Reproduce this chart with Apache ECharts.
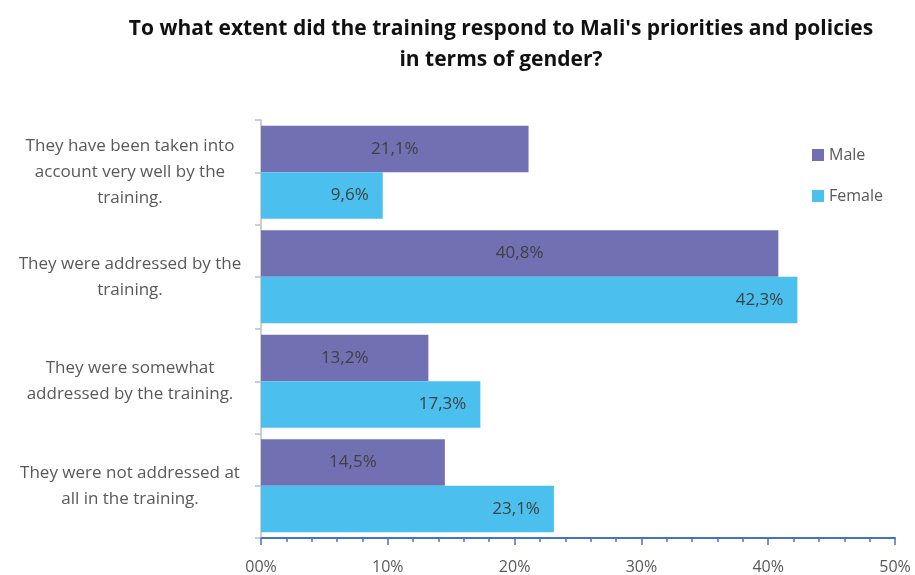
<!DOCTYPE html>
<html>
<head>
<meta charset="utf-8">
<script src="https://cdn.jsdelivr.net/npm/echarts@6/dist/echarts.min.js"></script>
<style>
html,body{margin:0;padding:0;background:#fff;}
#chart{width:915px;height:575px;}
</style>
</head>
<body>
<div id="chart"></div>
<script>
var titleText = "To what extent did the training respond to Mali's priorities and policies\nin terms of gender?";
var categories = [
  "They have been taken into\naccount very well by the\ntraining.",
  "They were addressed by the\ntraining.",
  "They were somewhat\naddressed by the training.",
  "They were not addressed at\nall in the training."
];
var seriesNames = ["Male", "Female"];
var maleValues = [21.1, 40.8, 13.2, 14.5];
var femaleValues = [9.6, 42.3, 17.3, 23.1];
var tickLabels = ["00%", "10%", "20%", "30%", "40%", "50%"];

var FONT = "Open Sans";
var chart = echarts.init(document.getElementById('chart'), null, {renderer: 'canvas'});
function fmt(p) { return p.value.toFixed(1).replace('.', ',') + '%'; }

chart.setOption({
  animation: false,
  backgroundColor: '#ffffff',
  textStyle: {fontFamily: FONT},
  title: {
    text: titleText,
    left: 496,
    top: 9,
    textAlign: 'center',
    textStyle: {fontFamily: FONT, fontWeight: 'bold', fontSize: 21, lineHeight: 31, color: '#111111'}
  },
  legend: {
    orient: 'vertical',
    left: 807,
    top: 142,
    itemWidth: 12,
    itemHeight: 12,
    itemGap: 25,
    icon: 'rect',
    data: seriesNames,
    textStyle: {fontFamily: FONT, fontSize: 16, color: '#595959'}
  },
  grid: {left: 261, right: 20, top: 120, bottom: 36, containLabel: false},
  xAxis: {
    type: 'value',
    min: 0, max: 50, interval: 10,
    axisLine: {show: true, lineStyle: {color: '#4472C4', width: 2}},
    axisTick: {show: true, length: 7, lineStyle: {color: '#4472C4', width: 1.5}},
    minorTick: {show: true, splitNumber: 5, length: 4, lineStyle: {color: '#4472C4', width: 1.5}},
    splitLine: {show: false},
    axisLabel: {
      margin: 21, fontSize: 16, color: '#595959', fontFamily: FONT,
      formatter: function (v) { return tickLabels[Math.round(v / 10)]; }
    }
  },
  yAxis: [{
    type: 'category',
    data: categories,
    inverse: true,
    axisLine: {show: true, lineStyle: {color: '#bfbfbf', width: 1.5}},
    axisTick: {show: true, length: 6, lineStyle: {color: '#bfbfbf', width: 1.5}},
    axisLabel: {
      margin: 131, align: 'center', fontSize: 17, lineHeight: 26,
      color: '#595959', fontFamily: FONT
    }
  }, {
    type: 'category',
    data: categories,
    inverse: true,
    position: 'left',
    axisLine: {show: false},
    axisTick: {show: true, alignWithLabel: true, length: 6, lineStyle: {color: '#bfbfbf', width: 1.5}},
    axisLabel: {show: false}
  }],
  series: [{
    name: seriesNames[0],
    type: 'bar',
    yAxisIndex: 0,
    data: maleValues,
    barGap: '0%',
    barCategoryGap: '11%',
    itemStyle: {color: '#7070B3'},
    label: {show: true, position: 'inside', fontSize: 17, color: '#404040', fontFamily: FONT, formatter: fmt}
  }, {
    name: seriesNames[1],
    type: 'bar',
    yAxisIndex: 0,
    data: femaleValues,
    barGap: '0%',
    barCategoryGap: '11%',
    itemStyle: {color: '#4BC0EE'},
    label: {show: true, position: 'insideRight', distance: 14, fontSize: 17, color: '#404040', fontFamily: FONT, formatter: fmt}
  }]
});
</script>
</body>
</html>
